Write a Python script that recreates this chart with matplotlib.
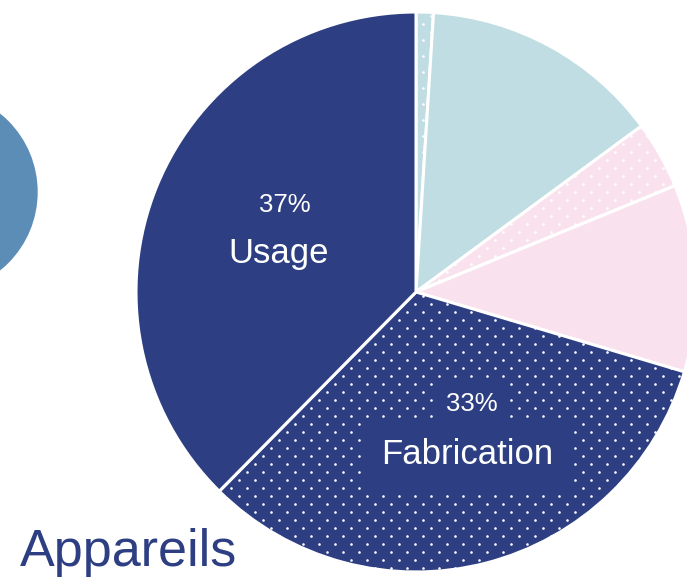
import matplotlib.pyplot as plt
from matplotlib.patches import Circle
import numpy as np

# slice shares, clockwise from the top
shares = [1.0, 13.9, 3.9, 10.8, 32.8, 37.6]
colors = ['#c0dde3', '#c0dde3', '#f9e2ed', '#f9e2ed', '#2d3f82', '#2d3f82']
dotted = [True, False, True, False, True, False]

navy = '#2d3f82'
plt.rcParams['font.family'] = ['Liberation Sans', 'DejaVu Sans']

fig = plt.figure(figsize=(6.87, 5.77), dpi=100)
ax = fig.add_axes([0, 0, 1, 1])

# axes in pixel units, y pointing down
wedges, _ = ax.pie(shares, colors=colors, center=(416, 292), radius=280,
                   startangle=-90, counterclock=True,
                   wedgeprops=dict(edgecolor='white', linewidth=2.2))
ax.set_xlim(0, 687)
ax.set_ylim(577, 0)
ax.set_aspect('equal')
ax.axis('off')

# white dot pattern on the "dotted" slices
xs, ys = [], []
for m in range(-60, 20):
    y = 448 + 8 * m
    x0 = 287 + (8 if m % 2 else 0)
    for k in range(-30, 30):
        xs.append(x0 + 16 * k)
        ys.append(y)
for w, d in zip(wedges, dotted):
    if d:
        sc = ax.scatter(xs, ys, s=3.5, c='white', linewidths=0, zorder=3)
        sc.set_clip_path(w)

# partial circle on the left
ax.add_patch(Circle((-63, 192), 100, color='#5b8db7', zorder=2))

ax.text(285, 212, '37%', color='white', fontsize=18.5, ha='center', va='baseline', zorder=5)
ax.text(279, 263, 'Usage', color='white', fontsize=25, ha='center', va='baseline', zorder=5)
ax.text(472, 411, '33%', color='white', fontsize=18.5, ha='center', va='baseline', zorder=6,
        bbox=dict(boxstyle='square,pad=0.35', fc=navy, ec='none'))
ax.text(467, 464, 'Fabrication', color='white', fontsize=25, ha='center', va='baseline', zorder=5,
        bbox=dict(boxstyle='square,pad=0.55', fc=navy, ec='none'))
ax.text(20, 566, 'Appareils', color=navy, fontsize=37.5, ha='left', va='baseline', zorder=5)

fig.savefig('out.png', dpi=100)
